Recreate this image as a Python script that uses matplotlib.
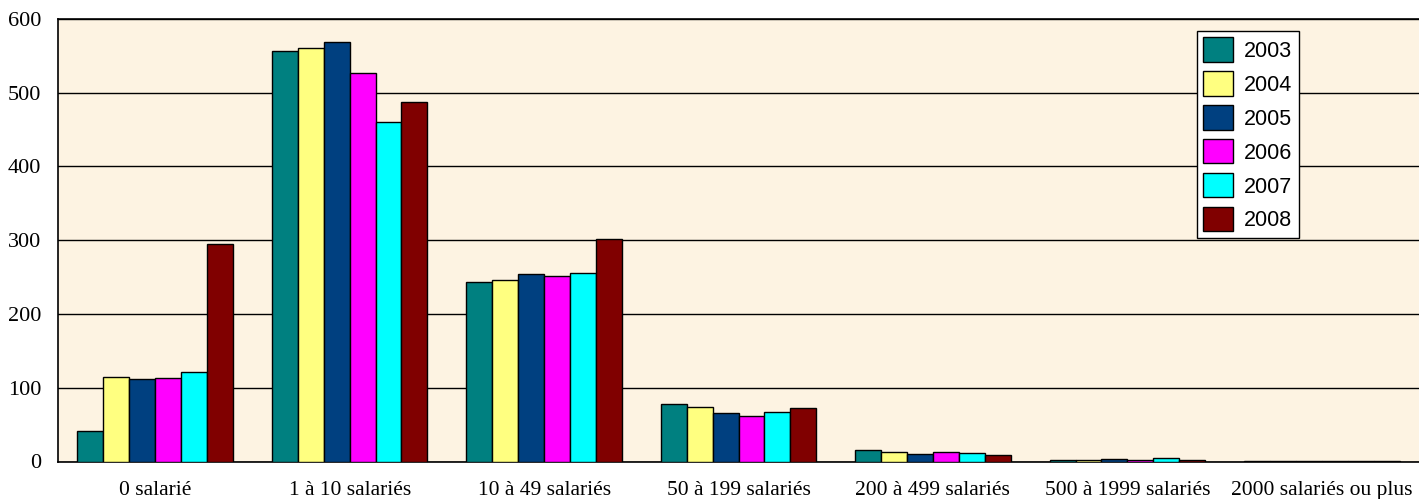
import numpy as np
import matplotlib
matplotlib.use("Agg")
import matplotlib.pyplot as plt

categories = ["0 salarié", "1 à 10 salariés", "10 à 49 salariés", "50 à 199 salariés",
              "200 à 499 salariés", "500 à 1999 salariés", "2000 salariés ou plus"]
years = ["2003", "2004", "2005", "2006", "2007", "2008"]

v2003 = [42, 556, 244, 78, 15, 2, 1]
v2004 = [115, 560, 246, 74, 13, 2, 1]
v2005 = [112, 569, 254, 66, 10, 3, 1]
v2006 = [113, 527, 251, 62, 13, 2, 1]
v2007 = [122, 460, 256, 67, 12, 5, 1]
v2008 = [295, 488, 302, 72, 9, 2, 1]
series = [v2003, v2004, v2005, v2006, v2007, v2008]

colors = ["#008080", "#FFFF80", "#004080", "#FF00FF", "#00FFFF", "#800000"]

fig = plt.figure(figsize=(14.19, 4.99), dpi=100)
ax = fig.add_axes([58/1419, 37.5/499, 1361/1419, 442.5/499])
ax.set_facecolor("#FDF3E2")

x = np.arange(len(categories))
w = 0.8 / len(years)
for i, (vals, col, yr) in enumerate(zip(series, colors, years)):
    ax.bar(x - 0.4 + w * (i + 0.5), vals, width=w, color=col, edgecolor="black",
           linewidth=1.0, label=yr, zorder=3)

ax.set_xlim(-0.5, 6.5)
ax.set_ylim(0, 600)
ax.set_yticks(range(0, 601, 100))
ax.yaxis.grid(True, color="black", linewidth=1.0, zorder=0)
ax.set_axisbelow(True)
ax.set_xticks(x)
ax.set_xticklabels(categories, family="Liberation Serif", fontsize=15.5)
for lab in ax.get_yticklabels():
    lab.set_family("Liberation Serif")
    lab.set_fontsize(16)
ax.tick_params(axis="x", length=0, pad=14)
ax.tick_params(axis="y", direction="in", length=0, pad=12)
for s in ["left", "bottom", "top"]:
    ax.spines[s].set_color("black")
    ax.spines[s].set_linewidth(1.2)
ax.spines["right"].set_visible(False)

leg = ax.legend(loc="upper left", bbox_to_anchor=((1197 - 58) / 1361, (461.5 - 31) / 442.5),
                borderaxespad=0, frameon=True, fancybox=False, prop={"family": "Liberation Sans", "size": 15.5},
                handlelength=1.35, handleheight=1.35, labelspacing=0.45, handletextpad=0.55,
                borderpad=0.3, edgecolor="black", framealpha=1)
leg.get_frame().set_linewidth(1.0)

fig.savefig("out.png", dpi=100, facecolor="white")
